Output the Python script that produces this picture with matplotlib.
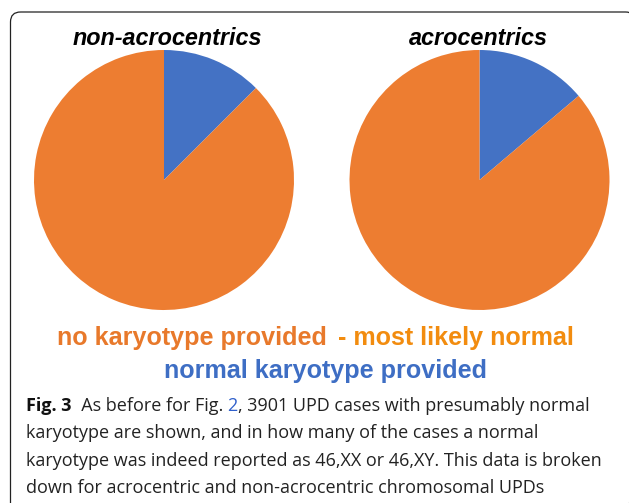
import matplotlib
matplotlib.use("Agg")
import matplotlib.pyplot as plt
from matplotlib.patches import FancyBboxPatch

# data: share of UPD cases (percent) per group
groups = ["non-acrocentrics", "acrocentrics"]
normal_karyotype = [12.5, 13.8]       # blue: normal karyotype provided
no_karyotype = [87.5, 86.2]           # orange: no karyotype provided
legend_labels = ["no karyotype provided", "- most likely normal", "normal karyotype provided"]
caption_lines = [
    "karyotype are shown, and in how many of the cases a normal",
    "karyotype was indeed reported as 46,XX or 46,XY. This data is broken",
    "down for acrocentric and non-acrocentric chromosomal UPDs",
]

blue = "#4472C4"
orange = "#ED7D31"

W, H = 629, 503
fig = plt.figure(figsize=(W / 100, H / 100), dpi=100)

# pies, placed in pixel units
centers = [(164, 180), (479.5, 180)]
r = 130
for (cx, cy), blu, ora in zip(centers, normal_karyotype, no_karyotype):
    ax = fig.add_axes([(cx - r) / W, (H - cy - r) / H, 2 * r / W, 2 * r / H])
    ax.pie([blu, ora], colors=[blue, orange], startangle=90, counterclock=False,
           radius=1, wedgeprops=dict(linewidth=0))
    ax.set_xlim(-1, 1)
    ax.set_ylim(-1, 1)
    ax.set_aspect("equal")
    ax.axis("off")

# overlay for frame and texts
ov = fig.add_axes([0, 0, 1, 1], zorder=5)
ov.set_xlim(0, W)
ov.set_ylim(H, 0)
ov.axis("off")
ov.patch.set_alpha(0)

frame = FancyBboxPatch((10.5, 12), 625, 520, boxstyle="round,pad=0,rounding_size=10",
                       fill=False, edgecolor="#222222", linewidth=0.9)
ov.add_patch(frame)

arial = "Liberation Sans"
ov.text(167.5, 38, groups[0], ha="center", va="center", fontsize=16.8, family=arial,
        fontweight="bold", style="italic", color="black")
ov.text(478.5, 38, groups[1], ha="center", va="center", fontsize=16.8, family=arial,
        fontweight="bold", style="italic", color="black")

ov.text(57, 338, legend_labels[0], ha="left", va="center", fontsize=18.1, family=arial,
        fontweight="bold", color="#E8792B")
ov.text(338, 338, legend_labels[1], ha="left", va="center", fontsize=18.1, family=arial,
        fontweight="bold", color="#F28C0F")
ov.text(325, 371, legend_labels[2], ha="center", va="center", fontsize=18.1, family=arial,
        fontweight="bold", color="#3E6EC4")

# caption
cap = "Open Sans"
cfs = 13.0
t = ov.text(26, 411, "Fig. 3", ha="left", va="baseline", fontsize=cfs, family=cap,
            fontweight="bold", color="#111111")
t = ov.annotate("  As before for Fig. ", xy=(1, 0), xycoords=t, va="bottom",
                fontsize=cfs, family=cap, color="#222222")
t = ov.annotate("2", xy=(1, 0), xycoords=t, va="bottom",
                fontsize=cfs, family=cap, color="#2F5FCB")
t = ov.annotate(", 3901 UPD cases with presumably normal", xy=(1, 0), xycoords=t,
                va="bottom", fontsize=cfs, family=cap, color="#222222")
for i, line in enumerate(caption_lines):
    ov.text(26, 438.3 + i * 27.2, line, ha="left", va="baseline", fontsize=cfs,
            family=cap, color="#222222")

fig.savefig("out.png", dpi=100, facecolor="white")
